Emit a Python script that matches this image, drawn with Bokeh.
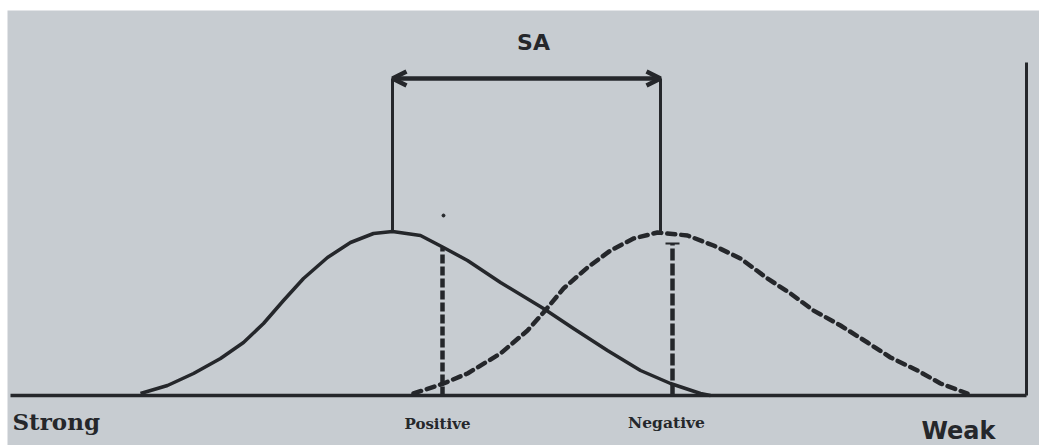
from bokeh.plotting import figure
from bokeh.models import Range1d, Arrow, OpenHead, Label
from bokeh.embed import file_html
from bokeh.resources import INLINE

# Solid curve ("Positive" distribution) (x, height above baseline)
pos_x = [140, 167, 193, 220, 243, 263, 283, 303, 327, 350, 373, 392, 413, 420, 443, 467, 500, 543, 573, 607, 640, 670, 700, 710]
pos_y = [2, 10, 22, 37, 53, 72, 95, 117, 138, 153, 162, 164, 161, 160, 148, 135, 113, 87, 67, 45, 25, 12, 2, 0]

# Dashed curve ("Negative" distribution)
neg_x = [413, 443, 467, 500, 527, 543, 563, 587, 610, 633, 657, 687, 713, 740, 767, 790, 813, 840, 867, 890, 917, 940, 967]
neg_y = [2, 12, 22, 42, 65, 83, 107, 128, 145, 157, 163, 160, 150, 137, 117, 102, 85, 70, 53, 38, 25, 12, 2]

# Markers
pos_mean_x, neg_mean_x, peak_h, sa_h = 392, 660, 164, 317
pos_cut_x, pos_cut_h = 442, 148
neg_cut_x, neg_cut_h = 672, 152
axis_left, axis_right, axis_top = 10, 1026, 333

labels = ["Strong", "Positive", "Negative", "Weak"]

INK = "#25272b"
BG = "#c7ccd1"

p = figure(width=1039, height=445, output_backend="svg", toolbar_location=None,
           x_range=Range1d(7, 1039), y_range=Range1d(-50, 385),
           min_border=0, min_border_left=7, min_border_top=10,
           background_fill_color=BG, border_fill_color="white",
           outline_line_color=None)
p.axis.visible = False
p.grid.visible = False

# baseline and right vertical axis
p.line([axis_left, axis_right], [0, 0], line_color=INK, line_width=3.5)
p.line([axis_right, axis_right], [0, axis_top], line_color=INK, line_width=3)

# curves
p.line(pos_x, pos_y, line_color=INK, line_width=3.5, line_join="round")
p.line(neg_x, neg_y, line_color=INK, line_width=4.5, line_dash="8 6", line_cap="round")

# dashed cut-off verticals
p.line([pos_cut_x, pos_cut_x], [0, pos_cut_h], line_color=INK, line_width=4.5, line_dash="9 3")
p.line([neg_cut_x, neg_cut_x], [0, neg_cut_h], line_color=INK, line_width=4.5, line_dash="12 3")
p.line([neg_cut_x - 7, neg_cut_x + 7], [neg_cut_h, neg_cut_h], line_color=INK, line_width=2)

# SA bracket
p.line([pos_mean_x, pos_mean_x], [peak_h, sa_h], line_color=INK, line_width=3)
p.line([neg_mean_x, neg_mean_x], [peak_h, sa_h], line_color=INK, line_width=3)
p.add_layout(Arrow(start=OpenHead(size=14, line_width=4.5, line_color=INK),
                   end=OpenHead(size=14, line_width=4.5, line_color=INK),
                   x_start=pos_mean_x, y_start=sa_h, x_end=neg_mean_x, y_end=sa_h,
                   line_color=INK, line_width=4.5))

# stray dot
p.scatter([443], [180], size=3, color=INK)

p.add_layout(Label(x=533, y=353, text="SA", text_align="center", text_baseline="middle",
                   text_font="DejaVu Sans", text_font_style="bold", text_font_size="22px",
                   text_color=INK))
p.add_layout(Label(x=12, y=-26, text=labels[0], text_align="left", text_baseline="middle",
                   text_font="DejaVu Serif", text_font_style="bold", text_font_size="23px",
                   text_color=INK))
p.add_layout(Label(x=437, y=-28, text=labels[1], text_align="center", text_baseline="middle",
                   text_font="DejaVu Serif", text_font_style="bold", text_font_size="15px",
                   text_color=INK))
p.add_layout(Label(x=666, y=-27, text=labels[2], text_align="center", text_baseline="middle",
                   text_font="DejaVu Serif", text_font_style="bold", text_font_size="15.5px",
                   text_color=INK))
p.add_layout(Label(x=958, y=-35, text=labels[3], text_align="center", text_baseline="middle",
                   text_font="DejaVu Sans", text_font_style="bold", text_font_size="24px",
                   text_color=INK))

open("out.html", "w").write(file_html(p, INLINE))
